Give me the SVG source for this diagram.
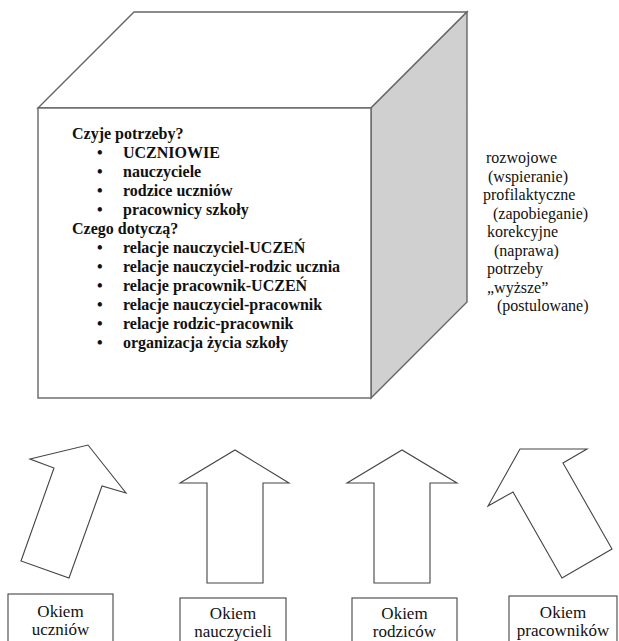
<svg xmlns="http://www.w3.org/2000/svg" width="619" height="641" viewBox="0 0 619 641">
<style>
.edge{fill:#fff;stroke:#666;stroke-width:1.4;stroke-linejoin:miter}
.side{fill:#d0d0d0;stroke:#666;stroke-width:1.4}
.arrow{fill:#fff;stroke:#444;stroke-width:1.1;stroke-linejoin:miter}
.box{fill:#fff;stroke:#444;stroke-width:1.1}
.b{font-family:'Liberation Serif','DejaVu Serif',serif;font-weight:bold;font-size:16px;fill:#111}
.r{font-family:'Liberation Serif','DejaVu Serif',serif;font-size:16px;fill:#111}
.l{font-family:'Liberation Serif','DejaVu Serif',serif;font-size:17px;fill:#111;text-anchor:middle}
</style>
<g id="cube">
<polygon class="edge" points="38,108 134,12 467,12 371,108"/>
<polygon class="side" points="371,108 467,12 467,302 371,398"/>
<rect class="edge" x="38" y="108" width="333" height="290"/>
<g id="cube-text">
<text class="b" x="72" y="139">Czyje potrzeby?</text>
<text class="b" x="97" y="158">•</text><text class="b" x="123" y="158">UCZNIOWIE</text>
<text class="b" x="97" y="177">•</text><text class="b" x="123" y="177">nauczyciele</text>
<text class="b" x="97" y="196">•</text><text class="b" x="123" y="196">rodzice uczniów</text>
<text class="b" x="97" y="215">•</text><text class="b" x="123" y="215">pracownicy szkoły</text>
<text class="b" x="72" y="234">Czego dotyczą?</text>
<text class="b" x="97" y="253">•</text><text class="b" x="123" y="253">relacje nauczyciel-UCZEŃ</text>
<text class="b" x="97" y="272">•</text><text class="b" x="123" y="272">relacje nauczyciel-rodzic ucznia</text>
<text class="b" x="97" y="291">•</text><text class="b" x="123" y="291">relacje pracownik-UCZEŃ</text>
<text class="b" x="97" y="310">•</text><text class="b" x="123" y="310">relacje nauczyciel-pracownik</text>
<text class="b" x="97" y="329">•</text><text class="b" x="123" y="329">relacje rodzic-pracownik</text>
<text class="b" x="97" y="348">•</text><text class="b" x="123" y="348">organizacja życia szkoły</text>
</g>
</g>
<g id="side-text">
<text class="r" x="486" y="163">rozwojowe</text>
<text class="r" x="488" y="182">(wspieranie)</text>
<text class="r" x="483" y="200">profilaktyczne</text>
<text class="r" x="493" y="219">(zapobieganie)</text>
<text class="r" x="487" y="237">korekcyjne</text>
<text class="r" x="494" y="256">(naprawa)</text>
<text class="r" x="487" y="274">potrzeby</text>
<text class="r" x="487" y="293">„wyższe”</text>
<text class="r" x="497" y="311">(postulowane)</text>
</g>
<g id="connectors">
<polygon class="arrow" points="30,459 88,445 126,493 102,486 69,578 21,561 54,468"/>
<polygon class="arrow" points="180,483 235,450 289,483 263,483 263,583 207,583 207,483"/>
<polygon class="arrow" points="347,483 402,450 457,483 430,483 430,583 374,583 374,483"/>
<polygon class="arrow" points="520,449 587,449 563,463 612,549 562,578 513,492 488,506"/>
</g>
<g id="okiem-uczniow">
<rect class="box" x="8" y="594" width="105" height="60"/>
<text class="l" x="60.5" y="617">Okiem</text>
<text class="l" x="60.5" y="635">uczniów</text>
</g>
<g id="okiem-nauczycieli">
<rect class="box" x="180" y="598" width="106" height="60"/>
<text class="l" x="233" y="619">Okiem</text>
<text class="l" x="233" y="637">nauczycieli</text>
</g>
<g id="okiem-rodzicow">
<rect class="box" x="352" y="598" width="105" height="60"/>
<text class="l" x="404.5" y="619">Okiem</text>
<text class="l" x="404.5" y="637">rodziców</text>
</g>
<g id="okiem-pracownikow">
<rect class="box" x="509" y="596" width="108" height="60"/>
<text class="l" x="563" y="618">Okiem</text>
<text class="l" x="563" y="636">pracowników</text>
</g>
</svg>
